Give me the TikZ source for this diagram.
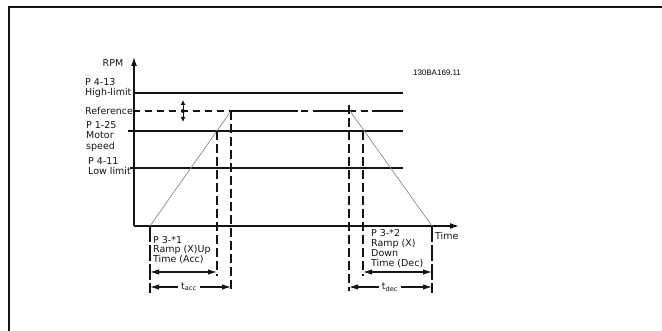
\documentclass[tikz,border=0pt]{standalone}
\usepackage{fontspec}
\setmainfont{DejaVu Sans}
\newfontfamily\idfont{Liberation Sans}
\usetikzlibrary{arrows.meta}
\definecolor{RALine}{HTML}{141414}
\definecolor{RARamp}{HTML}{8A8A8A}

\begin{document}
\begin{tikzpicture}[x=1pt,y=-1pt,
  lbl/.style={font=\fontsize{9.5}{10.5}\selectfont,inner sep=0pt,align=left,text=RALine},
  lvl/.style={RALine,line width=1.1pt},
  vdash/.style={RALine,line width=1.1pt,dash pattern=on 9pt off 4pt},
  span/.style={RALine,line width=1.1pt,{Latex[length=9pt,width=5.5pt]}-{Latex[length=9pt,width=5.5pt]}}]
\useasboundingbox (0,0) rectangle (662,331);
% frame
\draw[RALine,line width=1.4pt] (9,331) -- (9,7) -- (662,7);
% axes
\coordinate (org) at (134,226);
\draw[RALine,line width=1.3pt,-{Latex[length=9pt,width=6pt]}] (org) -- (134,57);
\draw[RALine,line width=1.3pt,-{Latex[length=9pt,width=6pt]}] (org) -- (459,226);
\node[lbl] (rpm) at (113,63) {RPM};
\node[lbl,anchor=west] (time) at (435,236) {Time};
\node[font=\idfont\fontsize{8}{9}\selectfont,inner sep=0pt] (code) at (437,73) {130BA169.11};
% levels
\node[lbl,anchor=west] (hi) at (85,88) {P 4-13\\High-limit};
\node[lbl,anchor=west] (ref) at (85,111) {Reference};
\node[lbl,anchor=west] (mot) at (86,136) {P 1-25\\Motor\\speed};
\node[lbl,anchor=west] (lo) at (88,166) {P 4-11\\Low limit};
\draw[lvl] (133,93) -- (403,93);
\draw[lvl,dash pattern=on 7pt off 5pt] (ref.east) -- (403,111);
\draw[lvl] (128,131) -- (403,131);
\draw[lvl] (130,168) -- (403,168);
\draw[RALine,line width=1pt,{Latex[length=5pt,width=5pt]}-{Latex[length=5pt,width=5pt]}] (183,100) -- (183,122);
\fill[RALine] (183,111) circle (2pt);
% ramp
\coordinate (st) at (150,226);
\coordinate (up) at (231,111);
\coordinate (dn) at (350,111);
\coordinate (en) at (432,226);
\draw[RARamp,line width=.7pt] (st) -- (up);
\draw[RARamp,line width=.7pt] (dn) -- (en);
\draw[lvl] (up) -- (298,111);
\draw[lvl] (313,111) -- (dn);
\draw[lvl] (372,111) -- (403,111);
% time markers
\draw[vdash] (217,131) -- (217,276);
\draw[vdash] (up) -- (231,291);
\draw[vdash] (349,105) -- (349,291);
\draw[vdash] (363,131) -- (363,276);
\draw[vdash,dash pattern=on 16pt off 3pt] (st) -- (150,293);
\draw[vdash,dash pattern=on 16pt off 3pt] (en) -- (432,293);
\node[lbl,anchor=north west,font=\fontsize{9.5}{9.5}\selectfont] (acc) at (153,236) {P 3-*1\\Ramp (X)Up\\Time (Acc)};
\node[lbl,anchor=north west,font=\fontsize{9.5}{10}\selectfont] (dec) at (371,229) {P 3-*2\\Ramp (X)\\Down\\Time (Dec)};
\draw[span] (150,272) -- (217,272);
\draw[span] (150,287) -- (231,287);
\node[lbl,fill=white,inner xsep=3pt,font=\fontsize{9.5}{10}\selectfont] (tacc) at (189,287) {t\textsubscript{acc}};
\draw[span] (363,272) -- (432,272);
\draw[span] (349,287) -- (432,287);
\node[lbl,fill=white,inner xsep=3pt,font=\fontsize{9.5}{10}\selectfont] (tdec) at (390,287) {t\textsubscript{dec}};
\end{tikzpicture}
\end{document}
